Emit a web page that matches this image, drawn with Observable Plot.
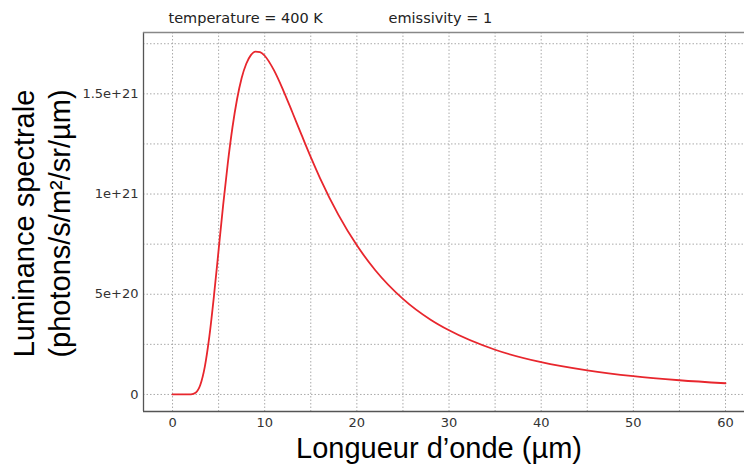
<!DOCTYPE html>
<html>
<head>
<meta charset="utf-8">
<script src="https://cdn.jsdelivr.net/npm/d3@7"></script>
<script src="https://cdn.jsdelivr.net/npm/@observablehq/plot@0.6"></script>
<style>
  html, body { margin: 0; padding: 0; background: #fff; }
  #chart { width: 744px; height: 466px; }
</style>
</head>
<body>
<div id="chart"></div>
<script>
// Data
const wavelengths = [0, 0.5, 1, 1.5, 2, 2.5, 3, 3.5, 4, 4.5, 5, 5.5, 6, 6.5, 7, 7.5, 8, 8.5, 9, 9.5, 10, 11, 12, 13, 14, 15, 16, 18, 20, 22, 25, 28, 30, 35, 40, 45, 50, 55, 60];
const radiance = [0, 0, 0, 0, 5.8e17, 8.6e18, 4.6e19, 1.38e20, 2.91e20, 4.94e20, 7.21e20, 9.48e20, 1.155e21, 1.332e21, 1.473e21, 1.579e21, 1.650e21, 1.693e21, 1.711e21, 1.708e21, 1.690e21, 1.618e21, 1.519e21, 1.408e21, 1.295e21, 1.184e21, 1.080e21, 8.96e20, 7.44e20, 6.20e20, 4.77e20, 3.73e20, 3.20e20, 2.23e20, 1.61e20, 1.20e20, 9.1e19, 7.1e19, 5.6e19];

const xTicks = [0, 10, 20, 30, 40, 50, 60];
const yTicks = [0, 5e20, 1e21, 1.5e21];
const yTickLabels = ["0", "5e+20", "1e+21", "1.5e+21"];
const xGrid = [0, 5, 10, 15, 20, 25, 30, 35, 40, 45, 50, 55, 60];
const yGrid = [0, 2.5e20, 5e20, 7.5e20, 1e21, 1.25e21, 1.5e21, 1.75e21];

const titleTemp = "temperature = 400 K";
const titleEmis = "emissivity = 1";
const xLabel = "Longueur d\u2019onde (\u00b5m)";
const yLabel1 = "Luminance spectrale";
const yLabel2 = "(photons/s/m\u00b2/sr/\u00b5m)";

const table = wavelengths.map((w, i) => ({w, r: radiance[i]}));

const xDomain = [-3.15, 62.06];
const yDomain = [-8.5e19, 1.806e21];

const chart = Plot.plot({
  width: 744,
  height: 466,
  marginLeft: 143,
  marginRight: 0,
  marginTop: 32,
  marginBottom: 55,
  style: {fontFamily: "DejaVu Sans", fontSize: "13px", background: "#fff", color: "#333"},
  x: {domain: xDomain},
  y: {domain: yDomain},
  marks: [
    Plot.ruleX(xGrid, {stroke: "#aaa", strokeDasharray: "1.5,2", strokeWidth: 1}),
    Plot.ruleY(yGrid, {stroke: "#aaa", strokeDasharray: "1.5,2", strokeWidth: 1}),
    Plot.ruleX([xDomain[0]], {stroke: "#555", strokeWidth: 1.3}),
    Plot.ruleY([yDomain[0]], {stroke: "#555", strokeWidth: 1.3}),
    Plot.ruleY([yDomain[1]], {stroke: "#888", strokeWidth: 1.3}),
    Plot.line(table, {x: "w", y: "r", stroke: "#e8262d", strokeWidth: 1.8, curve: "monotone-x"}),
    Plot.axisX(xTicks, {tickSize: 0, tickPadding: 6, label: null, fontSize: 13, fill: "#333"}),
    Plot.axisY(yTicks, {tickSize: 0, tickPadding: 5, label: null, fontSize: 13, fill: "#333",
      tickFormat: d => yTickLabels[yTicks.indexOf(d)]}),
    Plot.text([titleTemp], {text: d => d, frameAnchor: "top-left", textAnchor: "start", lineAnchor: "middle", dx: 25, dy: -14.6, fontSize: 14.5, fill: "#222"}),
    Plot.text([titleEmis], {text: d => d, frameAnchor: "top-left", textAnchor: "start", lineAnchor: "middle", dx: 245, dy: -14.6, fontSize: 14.5, fill: "#222"}),
    Plot.text([xLabel], {text: d => d, frameAnchor: "bottom", textAnchor: "middle", lineAnchor: "middle", dx: -5, dy: 37.7, fontSize: 29, fontFamily: "Liberation Sans", fill: "#000"}),
    Plot.text([yLabel1], {text: d => d, frameAnchor: "left", textAnchor: "middle", lineAnchor: "middle", rotate: -90, dx: -119, dy: 1.5, fontSize: 29, fontFamily: "Liberation Sans", fill: "#000"}),
    Plot.text([yLabel2], {text: d => d, frameAnchor: "left", textAnchor: "middle", lineAnchor: "middle", rotate: -90, dx: -83, dy: 1.5, fontSize: 29, fontFamily: "Liberation Sans", fill: "#000"})
  ]
});
document.getElementById("chart").appendChild(chart);
</script>
</body>
</html>
